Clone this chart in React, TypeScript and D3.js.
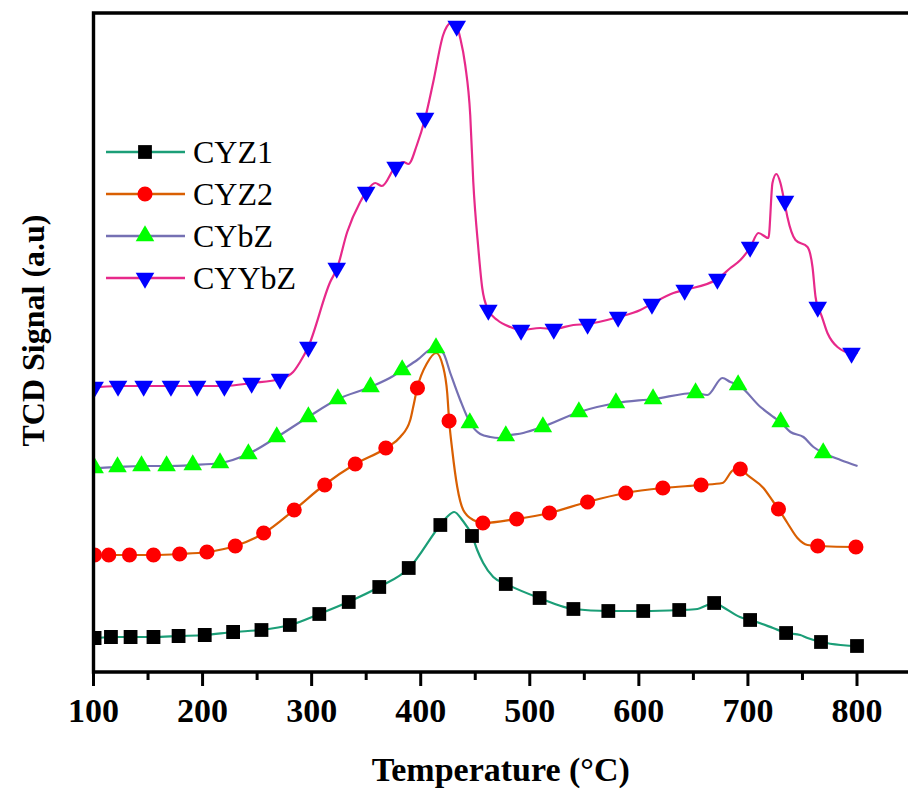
import React from "react";
import * as d3 from "d3";

type P = [number, number];

// Temperature (°C) vs TCD signal (a.u.)
const cyz1Line: P[] = [
  [100, 34], [101.4, 34], [116, 35], [133.5, 35], [154.6, 35], [178.4, 36], [202.3, 37], [228, 40],
  [253.7, 42], [280.3, 47], [306.9, 58], [333.5, 70], [361.9, 85], [389.4, 104], [417.9, 147],
  [424, 155], [430.7, 160], [438, 152], [447.2, 136], [451.8, 122], [457.3, 109], [466.5, 95],
  [478.4, 88], [508.7, 74], [539.9, 63], [572, 61], [604.1, 61], [637.2, 62], [653.7, 63],
  [662.8, 67], [670, 69], [677, 65], [692.7, 55], [702.3, 52], [723, 44], [735.3, 39], [748, 37],
  [754.6, 34], [767.4, 30], [784.9, 27], [799.5, 26], [800.5, 26],
];
const cyz1Marks: P[] = [
  [101, 34], [116, 35], [134, 35], [155, 35], [178, 36], [202, 37], [228, 40], [254, 42], [280, 47],
  [307, 58], [334, 70], [362, 85], [389, 104], [418, 147], [447, 136], [478, 88], [509, 74], [540, 63],
  [572, 61], [604, 61], [637, 62], [669, 69], [702, 52], [735, 39], [767, 30], [800, 26],
];

const cyz2Line: P[] = [
  [100, 117], [101.4, 117], [114.2, 117], [132.6, 117], [154.6, 117], [179.4, 118], [204.1, 120],
  [229.8, 126], [256.4, 139], [283.9, 162], [311.5, 187], [339.9, 208], [368.3, 224], [381.2, 235],
  [390.4, 252], [393.1, 265], [396.8, 284], [405.9, 309], [414.2, 319], [420.6, 305], [424.3, 279],
  [426.1, 251], [428.9, 222], [433.5, 185], [439, 162], [448.2, 152], [457.3, 149], [487.6, 153],
  [517.9, 159], [552.8, 170], [587.6, 179], [622.5, 184], [657.3, 187], [676.6, 189], [686.7, 202],
  [693.1, 203], [699.5, 197], [714.2, 184], [723.4, 170], [728, 163], [736.2, 149], [745.4, 134],
  [754.6, 127], [763.8, 126], [798.6, 125], [800.5, 125],
];
const cyz2Marks: P[] = [
  [101, 117], [114, 117], [133, 117], [155, 117], [179, 118], [204, 120], [230, 126], [256, 139],
  [284, 162], [312, 187], [340, 208], [368, 224], [397, 284], [426, 251], [457, 149], [488, 153],
  [518, 159], [553, 170], [588, 179], [622, 184], [657, 187], [693, 203], [728, 163], [764, 126], [799, 125],
];

const cybzLine: P[] = [
  [100, 204], [101.4, 204], [121.6, 205], [143.6, 206], [167.4, 206], [191.3, 207], [216.1, 209],
  [241.7, 218], [268.3, 235], [296.8, 255], [324.3, 273], [353.7, 285], [374.8, 296], [383, 302],
  [396.8, 312], [412.4, 324], [420.6, 319], [427.1, 299], [436.2, 272], [445.4, 249], [454.6, 238],
  [463.8, 235], [472, 234], [478.4, 236], [494, 239], [511.5, 245], [545.4, 260], [579.4, 269],
  [613.3, 273], [651.8, 279], [662.8, 277], [676.6, 294], [683.9, 290], [691.3, 287], [711.5, 265],
  [723.4, 255], [729.8, 250], [739, 240], [750.9, 235], [760.1, 225], [769.3, 219], [784.9, 212],
  [800.5, 206],
];
const cybzMarks: P[] = [
  [101, 204], [122, 205], [144, 206], [167, 206], [191, 207], [216, 209], [242, 218], [268, 235],
  [297, 255], [324, 273], [354, 285], [383, 302], [414, 324], [445, 249], [478, 236], [512, 245],
  [545, 260], [579, 269], [613, 273], [652, 279], [691, 287], [730, 250], [769, 219],
];

const cyybzLine: P[] = [
  [100, 285], [101.4, 285], [122.5, 286], [146.3, 286], [171.1, 286], [195, 286], [219.7, 286],
  [245.4, 289], [271.1, 293], [283, 300], [289.4, 310], [296.8, 325], [317, 390], [323.4, 404],
  [332.6, 440], [344.5, 470], [350, 480], [358.3, 489], [364.4, 486], [376.6, 505], [384.2, 510],
  [388.8, 508], [396.5, 527], [404.1, 554], [411.5, 590], [420.6, 637], [427.1, 649], [431.7, 650],
  [436.2, 634], [440.8, 607], [445.4, 557], [448.2, 490], [452.8, 424], [456.4, 384], [461.9, 362],
  [470.2, 352], [482.1, 345], [492.2, 342], [509.6, 344], [521.6, 343], [539.9, 347], [552.8, 348],
  [581.2, 355], [601.4, 362], [611.5, 368], [631.7, 379], [641.7, 382], [672, 393], [683.9, 404],
  [693.1, 412], [702.3, 425], [709.6, 439], [718.8, 434], [722.5, 489], [726.1, 498], [729.8, 489],
  [733.5, 470], [736.2, 455], [743.6, 432], [754.6, 425], [759.2, 405], [762, 375], [763.8, 365],
  [766.5, 359], [772.9, 339], [782.1, 325], [795, 319], [800.5, 319],
];
const cyybzMarks: P[] = [
  [101, 285], [122.5, 286], [146, 286], [171, 286], [195, 286], [220, 286], [245, 289], [271, 293],
  [297, 325], [323, 404], [350, 480], [377, 505], [404, 554], [433, 646], [462, 362], [492, 342],
  [522, 343], [553, 348], [581, 355], [612, 368], [642, 382], [672, 393], [702, 425], [734, 471],
  [764, 365], [795, 319],
];

const seriesNames = ["CYZ1", "CYZ2", "CYbZ", "CYYbZ"];
const xTicks = [100, 200, 300, 400, 500, 600, 700, 800];
const xMinorTicks = [150, 250, 350, 450, 550, 650, 750];

const W = 908;
const H = 790;
const left = 93.5;
const top = 13;
const bottom = 672;

const x = d3.scaleLinear().domain([100, 800]).range([93.5, 857]);
const y = d3.scaleLinear().domain([0, 659]).range([bottom, top]);

const lineGen = d3
  .line<P>()
  .x((d) => x(d[0]))
  .y((d) => y(d[1]))
  .curve(d3.curveMonotoneX);

const FONT = "'Liberation Serif', 'Times New Roman', serif";

const series = [
  { name: seriesNames[0], line: cyz1Line, marks: cyz1Marks, stroke: "#1b9e77", fill: "#000000", sym: d3.symbolSquare, size: 190, rot: 0 },
  { name: seriesNames[1], line: cyz2Line, marks: cyz2Marks, stroke: "#d95f02", fill: "#ff0000", sym: d3.symbolCircle, size: 180, rot: 0 },
  { name: seriesNames[2], line: cybzLine, marks: cybzMarks, stroke: "#7570b3", fill: "#00ff00", sym: d3.symbolTriangle, size: 150, rot: 0 },
  { name: seriesNames[3], line: cyybzLine, marks: cyybzMarks, stroke: "#e7298a", fill: "#0000ff", sym: d3.symbolTriangle, size: 150, rot: 180 },
];

export default function App() {
  const legendY = [152, 194, 236, 278];
  return (
    <svg
      width={W}
      height={H}
      style={{ position: "absolute", left: 0, top: 0, background: "#fff" }}
    >
      <defs>
        <clipPath id="plot">
          <rect x={left} y={top} width={W - left + 5} height={bottom - top} />
        </clipPath>
      </defs>
      <rect x={0} y={0} width={W} height={H} fill="#fff" />
      <g clipPath="url(#plot)">
        {series.map((s) => (
          <path key={s.name} d={lineGen(s.line) || ""} fill="none" stroke={s.stroke} strokeWidth={2.2} />
        ))}
        {series.map((s) =>
          s.marks.map((m, i) => (
            <path
              key={s.name + i}
              d={d3.symbol().type(s.sym).size(s.size)() || ""}
              transform={`translate(${x(m[0])},${y(m[1])}) rotate(${s.rot})`}
              fill={s.fill}
            />
          ))
        )}
      </g>
      {/* frame */}
      <path
        d={`M${W + 5},${top} H${left} V${bottom} H${W + 5}`}
        fill="none"
        stroke="#000"
        strokeWidth={3.4}
      />
      {xTicks.map((t) => (
        <g key={t}>
          <line x1={x(t)} x2={x(t)} y1={bottom} y2={bottom + 14} stroke="#000" strokeWidth={3} />
          <text
            x={x(t)}
            y={722}
            textAnchor="middle"
            fontFamily={FONT}
            fontWeight="bold"
            fontSize={34}
            fill="#000"
          >
            {t}
          </text>
        </g>
      ))}
      {xMinorTicks.map((t) => (
        <line key={t} x1={x(t)} x2={x(t)} y1={bottom} y2={bottom + 8} stroke="#000" strokeWidth={3} />
      ))}
      <text
        x={(left + W) / 2}
        y={781}
        textAnchor="middle"
        fontFamily={FONT}
        fontWeight="bold"
        fontSize={34}
        fill="#000"
      >
        Temperature (°C)
      </text>
      <text
        transform={`translate(44,${(top + bottom) / 2 - 12}) rotate(-90)`}
        textAnchor="middle"
        fontFamily={FONT}
        fontWeight="bold"
        fontSize={32}
        fill="#000"
      >
        TCD Signal (a.u)
      </text>
      {/* legend */}
      {series.map((s, i) => (
        <g key={"lg" + s.name}>
          <line x1={106} x2={185} y1={legendY[i]} y2={legendY[i]} stroke={s.stroke} strokeWidth={2.4} />
          <path
            d={d3.symbol().type(s.sym).size(s.size)() || ""}
            transform={`translate(145,${legendY[i]}) rotate(${s.rot})`}
            fill={s.fill}
          />
          <text x={193} y={legendY[i] + 11} fontFamily={FONT} fontSize={32} fill="#000">
            {s.name}
          </text>
        </g>
      ))}
    </svg>
  );
}
